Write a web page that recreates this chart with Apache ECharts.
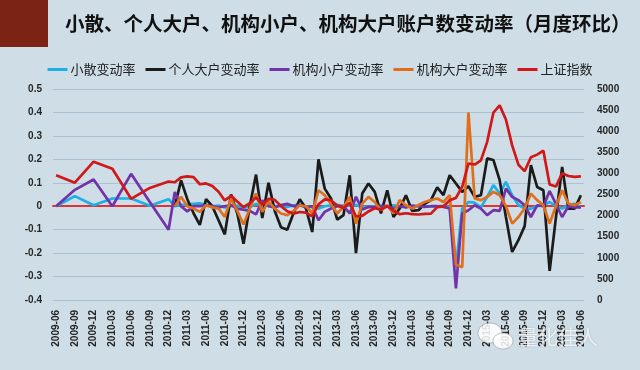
<!DOCTYPE html>
<html>
<head>
<meta charset="utf-8">
<script src="https://cdn.jsdelivr.net/npm/echarts@6/dist/echarts.min.js"></script>
<style>
html,body{margin:0;padding:0;background:#cedde6;}
#chart{width:640px;height:370px;}
</style>
</head>
<body>
<div id="chart"></div>
<script>
// Categories (monthly, 2009-06 .. 2016-06)
const months = [
  '2009-06','2009-07','2009-08','2009-09','2009-10','2009-11','2009-12',
  '2010-01','2010-02','2010-03','2010-04','2010-05','2010-06','2010-07','2010-08','2010-09','2010-10','2010-11','2010-12',
  '2011-01','2011-02','2011-03','2011-04','2011-05','2011-06','2011-07','2011-08','2011-09','2011-10','2011-11','2011-12',
  '2012-01','2012-02','2012-03','2012-04','2012-05','2012-06','2012-07','2012-08','2012-09','2012-10','2012-11','2012-12',
  '2013-01','2013-02','2013-03','2013-04','2013-05','2013-06','2013-07','2013-08','2013-09','2013-10','2013-11','2013-12',
  '2014-01','2014-02','2014-03','2014-04','2014-05','2014-06','2014-07','2014-08','2014-09','2014-10','2014-11','2014-12',
  '2015-01','2015-02','2015-03','2015-04','2015-05','2015-06','2015-07','2015-08','2015-09','2015-10','2015-11','2015-12',
  '2016-01','2016-02','2016-03','2016-04','2016-05','2016-06'
];

const seriesNames = ['小散变动率','个人大户变动率','机构小户变动率','机构大户变动率','上证指数'];

// 小散变动率
const retailSmall = [
  0, null, null, 0.043, null, null, 0.004,
  null, null, 0.033, null, null, 0.033, null, null, 0.002, null, null, 0.03,
  0.0, 0.005, 0.008, 0.01, 0.012, 0.006, 0.0, 0.003, -0.005, 0.0, 0.002, -0.004,
  -0.005, 0.01, 0.0, 0.005, 0.002, 0.0, -0.003, 0.004, 0.006, 0.0, -0.004, -0.01,
  0.0, 0.004, 0.006, 0.0, 0.002, 0.005, -0.004, -0.002, 0.0, 0.003, 0.0, 0.004,
  0.0, -0.003, 0.002, 0.0, 0.0, -0.002, 0.0, 0.002, -0.005, -0.26, -0.01, 0.018,
  0.015, -0.005, 0.04, 0.09, 0.054, 0.104, 0.047, 0.005, -0.01, -0.01, 0.0, 0.005,
  0.018, 0.0, -0.01, 0.005, 0.01, -0.005
];

// 个人大户变动率
const retailLarge = [
  null, null, null, null, null, null, null,
  null, null, null, null, null, null, null, null, null, null, null, null,
  0.0, 0.11, 0.03, -0.03, -0.08, 0.03, 0.0, -0.06, -0.12, 0.05, -0.03, -0.16,
  0.0, 0.135, -0.05, 0.1, -0.02, -0.09, -0.10, -0.03, 0.03, -0.01, -0.11, 0.20,
  0.075, 0.033, -0.057, -0.038, 0.132, -0.20, 0.054, 0.097, 0.061, -0.031, 0.068, -0.046,
  -0.01, 0.047, -0.02, -0.017, 0.01, 0.026, 0.08, 0.047, 0.132, 0.097, 0.061, 0.085,
  0.04, 0.047, 0.204, 0.197, 0.111, -0.046, -0.195, -0.145, -0.085, 0.175, 0.082, 0.068,
  -0.276, -0.05, 0.168, -0.01, -0.01, 0.047
];

// 机构小户变动率
const instSmall = [
  0, null, null, 0.07, null, null, 0.114,
  null, null, 0.0, null, null, 0.138, null, null, 0.018, null, null, -0.1,
  0.061, 0.0, -0.022, 0.0, 0.0, 0.005, 0.0, -0.005, 0.0, 0.005, -0.01, -0.015,
  -0.02, -0.035, 0.025, 0.0, -0.005, 0.005, 0.01, 0.0, 0.005, -0.005, 0.0, -0.06,
  -0.024, -0.01, 0.0, 0.0, -0.031, 0.04, -0.014, -0.003, -0.005, 0.0, 0.0, -0.01,
  0.0, -0.005, 0.002, 0.0, -0.003, 0.0, 0.0, -0.003, -0.01, -0.35, -0.031, -0.017,
  0.004, -0.01, -0.038, -0.017, -0.02, 0.075, 0.04, 0.026, 0.004, -0.046, 0.004, 0.0,
  0.065, 0.01, -0.046, 0.0, -0.005, -0.005
];

// 机构大户变动率
const instLarge = [
  null, null, null, null, null, null, null,
  null, null, null, null, null, null, null, null, null, null, null, null,
  0.0, 0.04, 0.0, -0.01, -0.024, 0.004, -0.005, -0.01, -0.046, 0.033, -0.02, -0.078,
  -0.01, 0.054, -0.024, 0.022, -0.01, -0.031, -0.038, -0.02, 0.004, 0.0, -0.03, 0.068,
  0.047, 0.01, -0.031, -0.003, 0.04, -0.074, 0.011, 0.04, 0.018, -0.017, 0.004, -0.031,
  0.026, 0.004, -0.01, 0.005, 0.018, 0.026, 0.033, 0.018, 0.047, -0.25, -0.26, 0.40,
  0.033, 0.026, 0.04, 0.061, 0.047, 0.0, -0.074, -0.046, -0.01, 0.054, 0.026, 0.004,
  -0.074, 0.0, 0.068, 0.011, 0.004, 0.018
];

// 上证指数
const shIndex = [
  2959, null, null, 2779, null, null, 3277,
  null, null, 3109, null, null, 2398, null, null, 2656, null, null, 2808,
  2791, 2905, 2928, 2912, 2743, 2762, 2702, 2567, 2359, 2468, 2333, 2199,
  2293, 2428, 2263, 2396, 2372, 2225, 2104, 2048, 2086, 2069, 1980, 2269,
  2385, 2366, 2237, 2178, 2301, 1979, 1994, 2098, 2175, 2142, 2221, 2116,
  2033, 2056, 2033, 2026, 2039, 2048, 2202, 2217, 2364, 2420, 2683, 3235,
  3210, 3310, 3748, 4442, 4612, 4277, 3664, 3206, 3053, 3383, 3445, 3539,
  2738, 2688, 3004, 2938, 2917, 2930
];

const seriesColors = ['#1cb0e6', '#1b1b1b', '#7232a8', '#df6f1c', '#d01818'];

const chart = echarts.init(document.getElementById('chart'), null, {renderer: 'canvas'});

function mkLine(name, data, color, axisIdx) {
  return {
    name: name, type: 'line', data: data, yAxisIndex: axisIdx,
    connectNulls: true, showSymbol: false, symbol: 'none',
    lineStyle: {color: color, width: 2.7}, itemStyle: {color: color}
  };
}

const labelFont = {fontSize: 10, fontWeight: 'bold', color: '#262626', fontFamily: 'Liberation Sans'};

chart.setOption({
  backgroundColor: '#cedde6',
  animation: false,
  title: {
    text: '小散、个人大户、机构小户、机构大户账户数变动率（月度环比）',
    left: 60, top: 9,
    textStyle: {fontSize: 19.5, fontWeight: 'bold', color: '#111', fontFamily: 'Noto Sans CJK SC'}
  },
  legend: {
    top: 58, left: 'center',
    icon: 'rect', itemWidth: 20, itemHeight: 3, itemGap: 10,
    data: seriesNames,
    textStyle: {fontSize: 13, color: '#222', fontFamily: 'Noto Sans CJK SC', padding: [0, 0, 0, -2]}
  },
  grid: {left: 53, right: 56, top: 89, bottom: 70},
  xAxis: {
    type: 'category', data: months, boundaryGap: true, offset: 2,
    axisLine: {show: true, lineStyle: {color: '#e03434', width: 2}},
    axisTick: {show: false},
    axisLabel: Object.assign({interval: 2, rotate: 90, margin: 8}, labelFont)
  },
  yAxis: [
    {
      type: 'value', min: -0.4, max: 0.5, interval: 0.1,
      axisLine: {show: false}, axisTick: {show: false},
      splitLine: {lineStyle: {color: '#aac3d3', width: 1}},
      axisLabel: Object.assign({margin: 11, formatter: function (v) {
        const r = Math.round(v * 10) / 10;
        return r === 0 ? '0' : r.toFixed(1);
      }}, labelFont)
    },
    {
      type: 'value', min: 0, max: 5000, interval: 500,
      axisLine: {show: false}, axisTick: {show: false},
      splitLine: {show: false},
      axisLabel: Object.assign({margin: 13, formatter: function (v) { return String(Math.round(v)); }}, labelFont)
    }
  ],
  graphic: [
    {type: 'rect', left: 0, top: 0, shape: {width: 48, height: 47}, style: {fill: '#7b2414'}},
    {type: 'ellipse', shape: {cx: 490, cy: 333, rx: 12, ry: 10}, style: {fill: 'rgba(255,255,255,0.85)', stroke: 'rgba(150,150,150,0.6)'}, z: 100},
    {type: 'ellipse', shape: {cx: 503, cy: 341, rx: 10, ry: 8}, style: {fill: 'rgba(255,255,255,0.85)', stroke: 'rgba(150,150,150,0.6)'}, z: 100},
    {type: 'text', left: 518, top: 327, z: 100,
     style: {text: '量化佳人', fontSize: 20, fill: 'rgba(255,255,255,0.75)', fontFamily: 'Noto Sans CJK SC',
             textShadowColor: 'rgba(120,120,120,0.5)', textShadowBlur: 2}}
  ],
  series: [
    mkLine(seriesNames[0], retailSmall, seriesColors[0], 0),
    mkLine(seriesNames[1], retailLarge, seriesColors[1], 0),
    mkLine(seriesNames[2], instSmall, seriesColors[2], 0),
    mkLine(seriesNames[3], instLarge, seriesColors[3], 0),
    mkLine(seriesNames[4], shIndex, seriesColors[4], 1)
  ]
});
</script>
</body>
</html>
